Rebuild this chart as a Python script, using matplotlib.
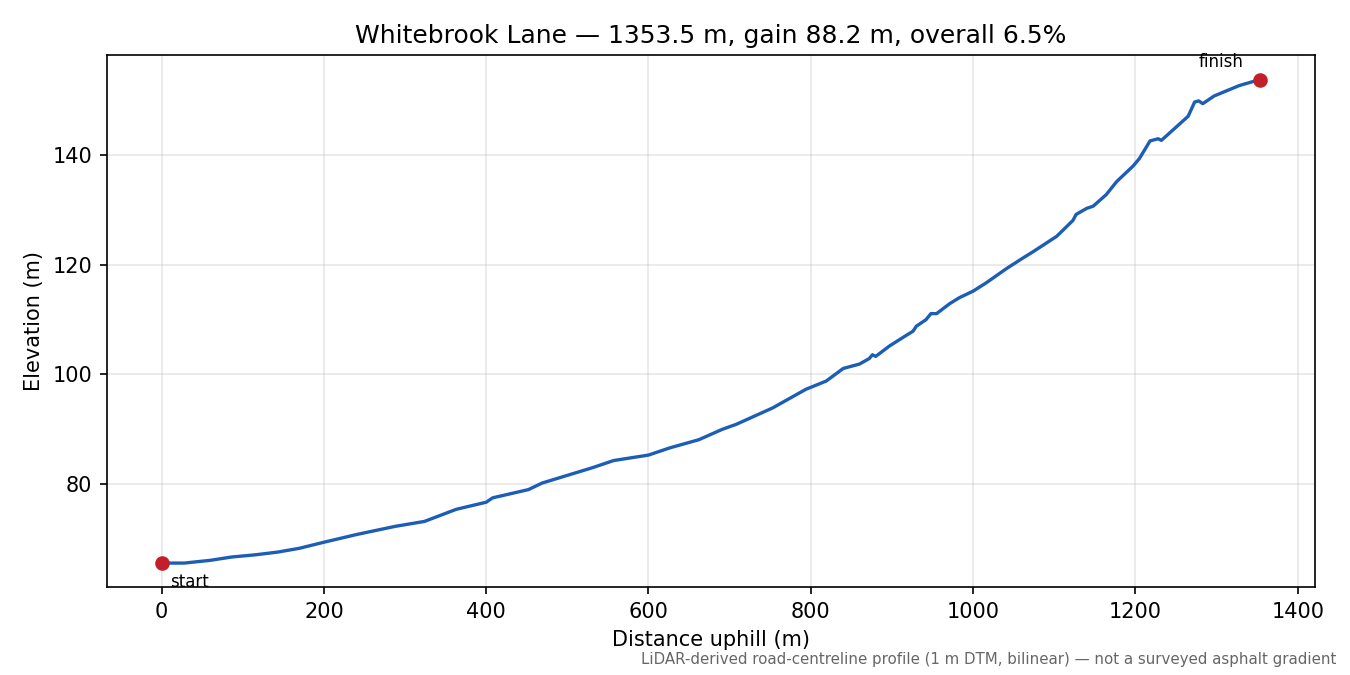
import matplotlib
matplotlib.use("Agg")
import matplotlib.pyplot as plt

# profile
dist = [0, 28, 60, 86, 115, 143, 170, 200, 240, 288, 324, 363, 400, 408, 452, 469,
        500, 531, 557, 600, 626, 662, 691, 708, 753, 794, 819, 840, 860, 872, 876,
        880, 897, 913, 926, 930, 942, 948, 955, 971, 983, 1000, 1016, 1041, 1062,
        1074, 1103, 1123, 1127, 1140, 1148, 1164, 1177, 1197, 1205, 1218, 1228,
        1232, 1250, 1265, 1273, 1278, 1283, 1297, 1310, 1328, 1353.5]
elev = [65.6, 65.6, 66.1, 66.7, 67.1, 67.6, 68.3, 69.4, 70.8, 72.3, 73.2, 75.4,
        76.7, 77.5, 79.0, 80.2, 81.6, 83.0, 84.3, 85.3, 86.6, 88.1, 90.0, 90.9,
        93.9, 97.3, 98.8, 101.1, 101.9, 102.9, 103.6, 103.3, 105.2, 106.7, 107.9,
        108.8, 110.0, 111.1, 111.1, 112.9, 114.0, 115.2, 116.7, 119.3, 121.3, 122.4,
        125.2, 128.1, 129.2, 130.3, 130.7, 132.8, 135.2, 138.0, 139.4, 142.6, 143.0,
        142.7, 145.1, 147.1, 149.7, 149.9, 149.4, 150.8, 151.6, 152.7, 153.8]

road = "Whitebrook Lane"
length = dist[-1]
gain = elev[-1] - elev[0]
grade = gain / length * 100

fig, ax = plt.subplots(figsize=(9, 4.5), dpi=150)
ax.plot(dist, elev, color="#1c5db5", lw=1.6)
ax.plot([dist[0], dist[-1]], [elev[0], elev[-1]], "o", color="#c21f2a", ms=6)
ax.annotate("start", (dist[0], elev[0]), xytext=(4, -5), textcoords="offset points",
            ha="left", va="top", fontsize=8)
ax.annotate("finish", (dist[-1], elev[-1]), xytext=(-8, 4), textcoords="offset points",
            ha="right", va="bottom", fontsize=8)

ax.set_title("{} \u2014 {:.1f} m, gain {:.1f} m, overall {:.1f}%".format(road, length, gain, grade),
             fontsize=12)
ax.set_xlabel("Distance uphill (m)")
ax.set_ylabel("Elevation (m)")
ax.grid(alpha=0.3)

fig.text(0.99, 0.012, "LiDAR-derived road-centreline profile (1 m DTM, bilinear) \u2014 not a surveyed asphalt gradient",
         ha="right", va="bottom", fontsize=7.2, color="#666666")

fig.subplots_adjust(left=0.079, right=0.974, top=0.918, bottom=0.13)
fig.savefig("out.png")
